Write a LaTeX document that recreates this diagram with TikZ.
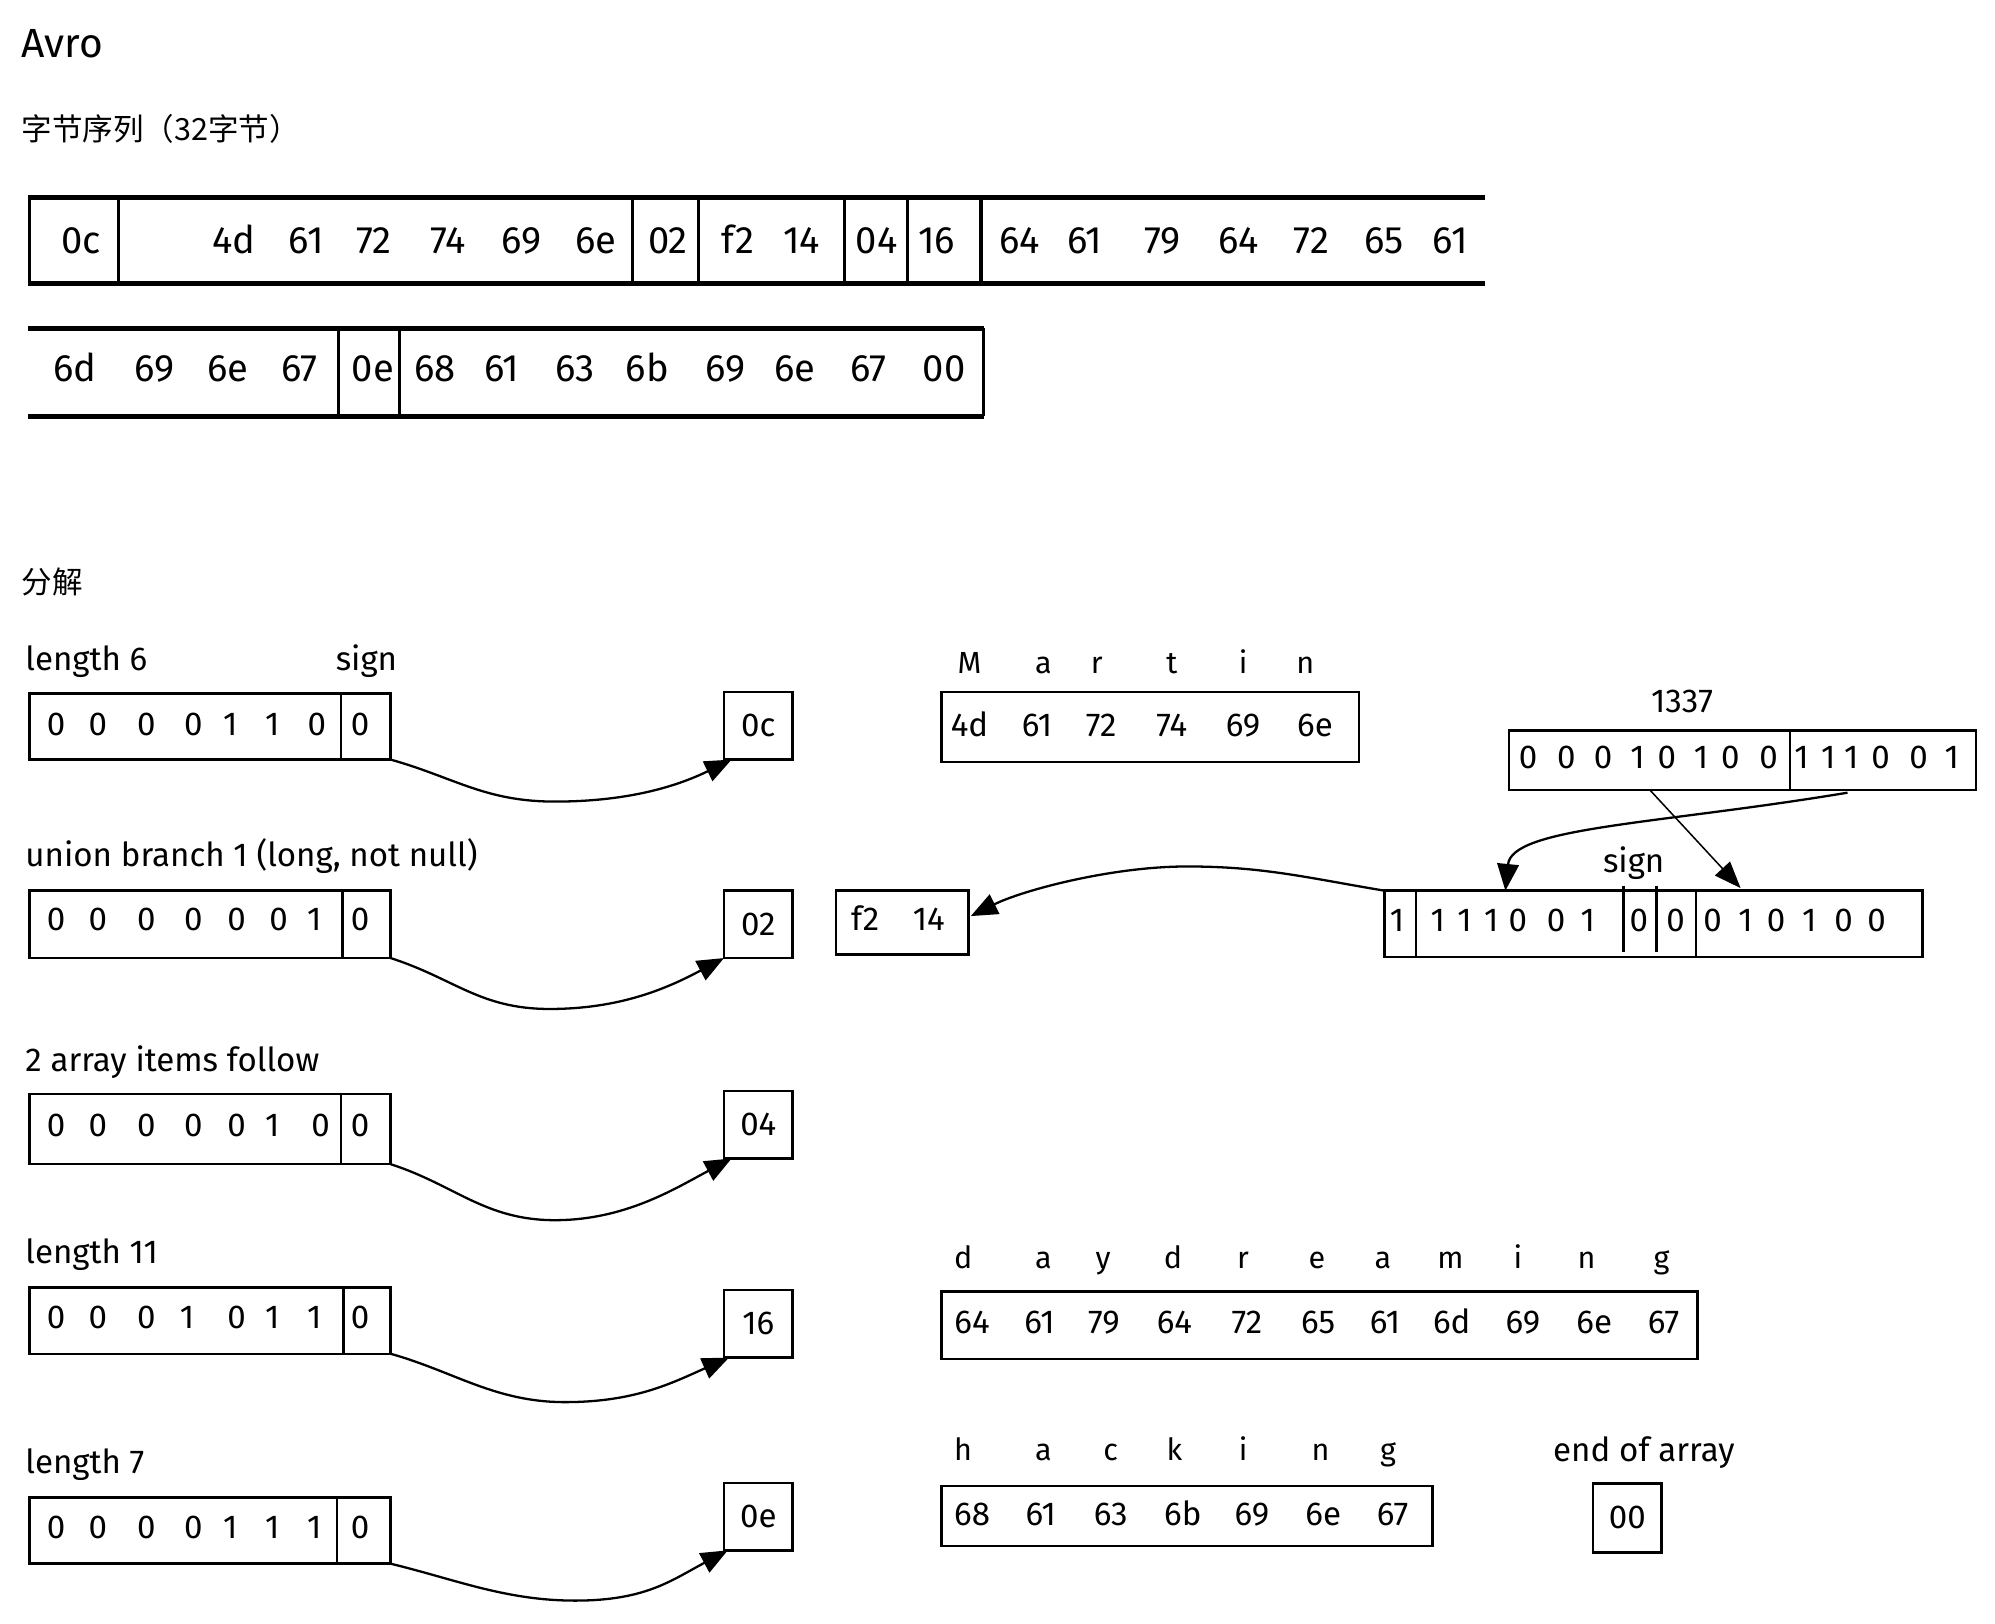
\documentclass[tikz,border=0pt]{standalone}
\usepackage{fontspec}
\setmainfont{Fira Sans}
\newfontfamily\cjk{Noto Sans CJK SC}
\usetikzlibrary{arrows.meta,calc,fit}
\tikzset{
  hexA/.style={anchor=base,font=\fontsize{15}{15}\selectfont},
  hexB/.style={anchor=base,font=\fontsize{13}{13}\selectfont},
  lbl/.style={anchor=base west,font=\fontsize{13}{13}\selectfont},
  ltr/.style={anchor=base,font=\fontsize{12}{12}\selectfont},
  bx/.style={draw,line width=1pt,inner sep=0pt},
  obox/.style={draw,line width=1pt,minimum width=27pt,minimum height=26.5pt,font=\fontsize{13}{13}\selectfont},
  heavy/.style={line width=2pt},
  divl/.style={line width=1.2pt},
  arr/.style={line width=0.9pt,-{Triangle[length=10.5pt,width=8.5pt]}},
  arrthin/.style={line width=0.6pt,-{Triangle[length=10.5pt,width=8pt]}},
}
\newcommand\tokrow[4]{\foreach \xx/\tk [count=\nn] in {#4} {\node[#1] (#2\nn) at (\xx,#3) {\tk};}}
\begin{document}
\begin{tikzpicture}[x=0.5pt,y=-0.5pt,every node/.style={inner sep=0pt,outer sep=0pt}]
\fill[white] (0,0) rectangle (1568,1276);
\useasboundingbox (0,0) rectangle (1568,1276);

% titles
\node[anchor=base west,font=\fontsize{16}{16}\selectfont] (title) at (17,45) {Avro};
\node[anchor=west,font=\fontsize{12}{12}\selectfont\cjk] (seq) at (17,101) {字节序列（32字节）};
\node[anchor=west,font=\fontsize{12}{12}\selectfont\cjk] (dec) at (17,457.5) {分解};

% byte sequence row 1
\draw[heavy] (22,155) -- (1167,155);
\draw[heavy] (22,223) -- (1167,223);
\foreach \xx in {23,93,497,549,664,713,771} {\draw[divl] (\xx,155) -- (\xx,223);}
\tokrow{hexA}{ra}{199}{64/0c,184/4d,240.6/61,294/72,352/74,409.6/69,468.6/6e,525/02,580/f2,630/14,689/04,736/16,801.3/64,852.5/61,913.5/79,973.6/64,1030.7/72,1088/65,1139.7/61}

% byte sequence row 2
\draw[heavy] (22,258) -- (773,258);
\draw[heavy] (22,327) -- (773,327);
\foreach \xx in {266,314,773} {\draw[divl] (\xx,258) -- (\xx,327);}
\tokrow{hexA}{rb}{300}{58.7/6d,121.3/69,179/6e,235.6/67,293/0e,342/68,394.5/61,452/63,508.7/6b,570/69,625/6e,682.7/67,742/00}

% left items
\node[lbl] (l1) at (20,527) {length 6};
\node[ltr,font=\fontsize{13}{13}\selectfont] (s1) at (288,527) {sign};
\node[bx,fit={(23,545)(307,597)}] (b1) {};
\draw[line width=1pt] (268,545) -- (268,597);
\tokrow{hexB}{ba}{578}{44/0,77/0,115/0,152/0,181/1,214/1,249/0,283/0}
\node[obox] (o1) at (596,570.5) {0c};
\coordinate (d1) at (436,630);
\draw[arr] (b1.south east) .. controls +(50,14) and +(-55,0) .. (d1) .. controls +(55,0) and +(-45,22) .. ($(o1.south west)+(6,0)$);

\node[lbl] (l2) at (20,681) {union branch 1 (long, not null)};
\node[bx,fit={(23,700)(307,753)}] (b2) {};
\draw[line width=1pt] (269,700) -- (269,753);
\tokrow{hexB}{bb}{731}{44/0,77/0,115/0,152/0,186/0,219/0,247/1,283/0}
\node[obox] (o2) at (596,726.5) {02};
\coordinate (d2) at (432,793);
\draw[arr] (b2.south east) .. controls +(50,16) and +(-55,0) .. (d2) .. controls +(55,0) and +(-45,24) .. (o2.south west);

\node[lbl] (l3) at (20,842) {2 array items follow};
\node[bx,fit={(23,860)(307,915)}] (b3) {};
\draw[line width=1pt] (268,860) -- (268,915);
\tokrow{hexB}{bc}{893}{44/0,77/0,115/0,152/0,186/0,214/1,252/0,283/0}
\node[obox] (o3) at (596,884) {04};
\coordinate (d3) at (436,959);
\draw[arr] (b3.south east) .. controls +(50,16) and +(-55,0) .. (d3) .. controls +(55,0) and +(-45,24) .. ($(o3.south west)+(6,0)$);

\node[lbl] (l4) at (20,993) {length 11};
\node[bx,fit={(23,1012)(307,1064)}] (b4) {};
\draw[line width=1pt] (270,1012) -- (270,1064);
\tokrow{hexB}{bd}{1044}{44/0,77/0,115/0,147/1,186/0,214/1,247/1,283/0}
\node[obox] (o4) at (596,1040.5) {16};
\coordinate (d4) at (444,1102);
\draw[arr] (b4.south east) .. controls +(50,14) and +(-55,0) .. (d4) .. controls +(55,0) and +(-45,20) .. ($(o4.south west)+(4,0)$);

\node[lbl] (l5) at (20,1158) {length 7};
\node[bx,fit={(23,1177)(307,1229)}] (b5) {};
\draw[line width=1pt] (265,1177) -- (265,1229);
\tokrow{hexB}{be}{1209}{44/0,77/0,115/0,152/0,181/1,214/1,247/1,283/0}
\node[obox] (o5) at (596,1192) {0e};
\coordinate (d5) at (452,1258);
\draw[arr] (b5.south east) .. controls +(50,12) and +(-55,0) .. (d5) .. controls +(55,0) and +(-45,24) .. ($(o5.south west)+(3,0)$);

% Martin
\tokrow{ltr}{ma}{529}{762/M,820/a,862/r,921/t,977/i,1026/n}
\node[bx,fit={(740,544)(1068,599)}] (mh) {};
\tokrow{hexB}{mx}{579}{762/4d,815/61,865.5/72,921/74,977/69,1033.5/6e}

% 1337
\node[anchor=base,font=\fontsize{13}{13}\selectfont] (n1337) at (1322,560) {1337};
\node[bx,fit={(1186,574)(1553,621)}] (bin) {};
\draw[line width=1pt] (1407,574) -- (1407,621);
\tokrow{hexB}{bn}{604}{1201/0,1231/0,1260/0,1287/1,1310/0,1337/1,1360/0,1390/0,1416/1,1437/1,1455/1,1478/0,1508/0,1534/1}

% rearranged bits
\node[ltr,font=\fontsize{13}{13}\selectfont] (s2) at (1284,686) {sign};
\node[bx,fit={(1088,700)(1511,752)}] (rbx) {};
\draw[line width=1pt] (1113,700) -- (1113,752);
\draw[line width=1pt] (1276,696) -- (1276,748);
\draw[line width=1pt] (1302,696) -- (1302,748);
\draw[line width=1pt] (1333,700) -- (1333,752);
\tokrow{hexB}{bz}{732}{1098/1,1130/1,1151/1,1172/1,1193/0,1223/0,1248/1,1288/0,1317/0,1346/0,1372/1,1396/0,1422/1,1449/0,1475/0}

% f2 14
\node[bx,fit={(657,700)(761,750)}] (fb) {};
\tokrow{hexB}{fx}{731}{680/f2,730/14}

% right arrows
\draw[arrthin] ($(bin.south west)!0.302!(bin.south east)$) -- ($(rbx.north west)!0.662!(rbx.north east)+(0,-2)$);
\draw[arr] ($(bin.south west)!0.725!(bin.south east)+(0,2)$) .. controls +(-150,25) and +(5,-50) .. ($(rbx.north west)!0.225!(rbx.north east)$);
\coordinate (d6) at (933,681);
\draw[arr] (rbx.north west) .. controls +(-60,-10) and +(60,0) .. (d6) .. controls +(-60,0) and +(40,-20) .. ($(fb.east)+(2,-5)$);

% daydreaming
\tokrow{ltr}{da}{997}{757/d,820/a,867/y,922/d,977/r,1035/e,1087/a,1140/m,1193/i,1247/n,1306/g}
\node[bx,fit={(740,1015)(1334,1068)}] (dh) {};
\tokrow{hexB}{dx}{1048}{764/64,817/61,867.6/79,923/64,980/72,1036/65,1088.6/61,1141/6d,1197/69,1253/6e,1307.5/67}

% hacking
\tokrow{ltr}{ha}{1148}{757/h,820/a,873/c,923/k,977/i,1038/n,1091/g}
\node[bx,fit={(740,1168)(1126,1215)}] (hh) {};
\tokrow{hexB}{hx}{1199}{764/68,818/61,873/63,929.6/6b,984/69,1040/6e,1094.5/67}

% end of array
\node[anchor=base,font=\fontsize{13}{13}\selectfont] (eoa) at (1292,1149) {end of array};
\node[obox,minimum height=27pt] (eb) at (1279,1193) {00};
\end{tikzpicture}
\end{document}
